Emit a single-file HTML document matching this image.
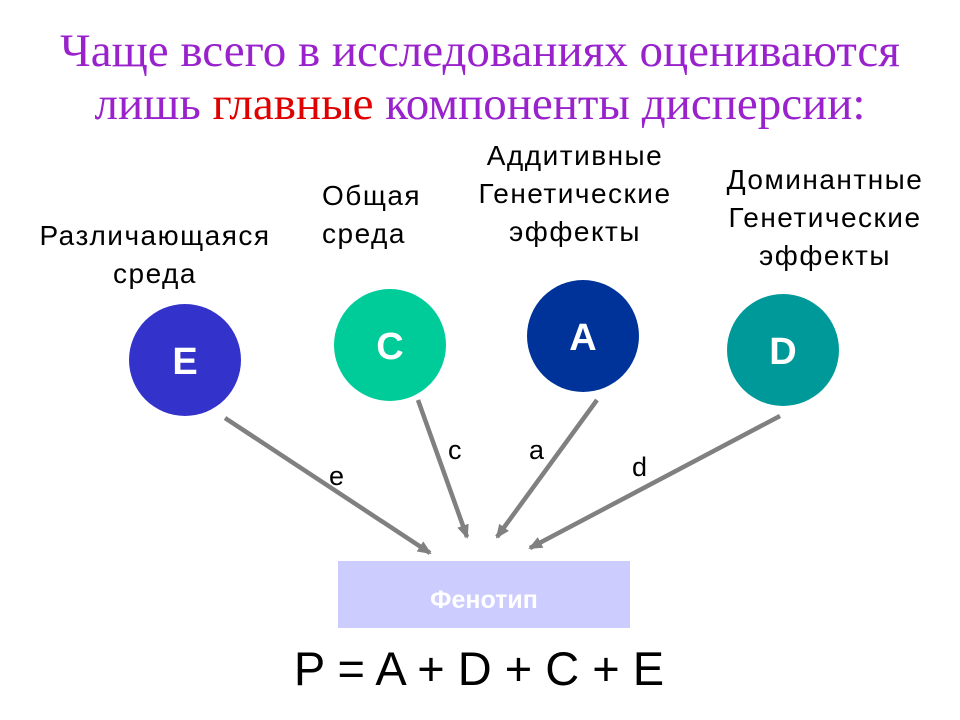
<!DOCTYPE html>
<html><head><meta charset="utf-8"><style>
body{margin:0;width:960px;height:720px;background:#fff;position:relative;overflow:hidden;font-family:"Liberation Sans",sans-serif}
.t{position:absolute;left:0;width:960px;text-align:center;font-family:"Liberation Serif",serif;font-size:47px;color:#9922cc;line-height:50px;white-space:nowrap}
.l{position:absolute;font-size:28px;color:#000;text-align:center;line-height:38px;letter-spacing:1.5px;white-space:nowrap}
</style></head><body>
<div class="t" style="top:26px">Чаще всего в исследованиях оцениваются</div>
<div class="t" style="top:79px">лишь <span style="color:#e00000">главные</span> компоненты дисперсии:</div>
<div class="l" style="left:15px;width:280px;top:217px">Различающаяся<br>среда</div>
<div class="l" style="left:322px;width:120px;top:177px;text-align:left">Общая<br>среда</div>
<div class="l" style="left:445px;width:260px;top:137px">Аддитивные<br>Генетические<br>эффекты</div>
<div class="l" style="left:695px;width:260px;top:161px">Доминантные<br>Генетические<br>эффекты</div>
<svg width="960" height="720" style="position:absolute;left:0;top:0">
<defs><marker id="m" markerWidth="14" markerHeight="12" refX="12" refY="6" orient="auto" markerUnits="userSpaceOnUse"><path d="M0,0 L14,6 L0,12 Z" fill="#808080"/></marker></defs>
<ellipse cx="185" cy="360" rx="56" ry="56" fill="#3333cc"/>
<ellipse cx="390" cy="345" rx="56" ry="56" fill="#00cc99"/>
<ellipse cx="583" cy="336" rx="56" ry="56" fill="#003399"/>
<ellipse cx="783" cy="350" rx="56" ry="56" fill="#009999"/>
<g font-family="Liberation Sans" font-weight="bold" font-size="38" fill="#fff" text-anchor="middle">
<text x="185" y="374">E</text><text x="390" y="359">C</text><text x="583" y="350">A</text><text x="783" y="364">D</text></g>
<g stroke="#808080" stroke-width="4.5" marker-end="url(#m)">
<line x1="225" y1="418" x2="430" y2="553"/>
<line x1="418" y1="400" x2="467" y2="537"/>
<line x1="597" y1="400" x2="497" y2="537"/>
<line x1="780" y1="416" x2="530" y2="548"/>
</g>
<g font-family="Liberation Sans" font-size="27" fill="#000">
<text x="329" y="485">e</text><text x="448" y="459">c</text><text x="529" y="459">a</text><text x="632" y="476">d</text></g>
<rect x="338" y="561" width="292" height="67" fill="#ccccff"/>
<text x="484" y="608" font-family="Liberation Sans" font-weight="bold" font-size="25" fill="#fff" text-anchor="middle">Фенотип</text>
<text x="479" y="685" font-family="Liberation Sans" font-size="47" fill="#000" text-anchor="middle">P = A + D + C + E</text>
</svg>
</body></html>
